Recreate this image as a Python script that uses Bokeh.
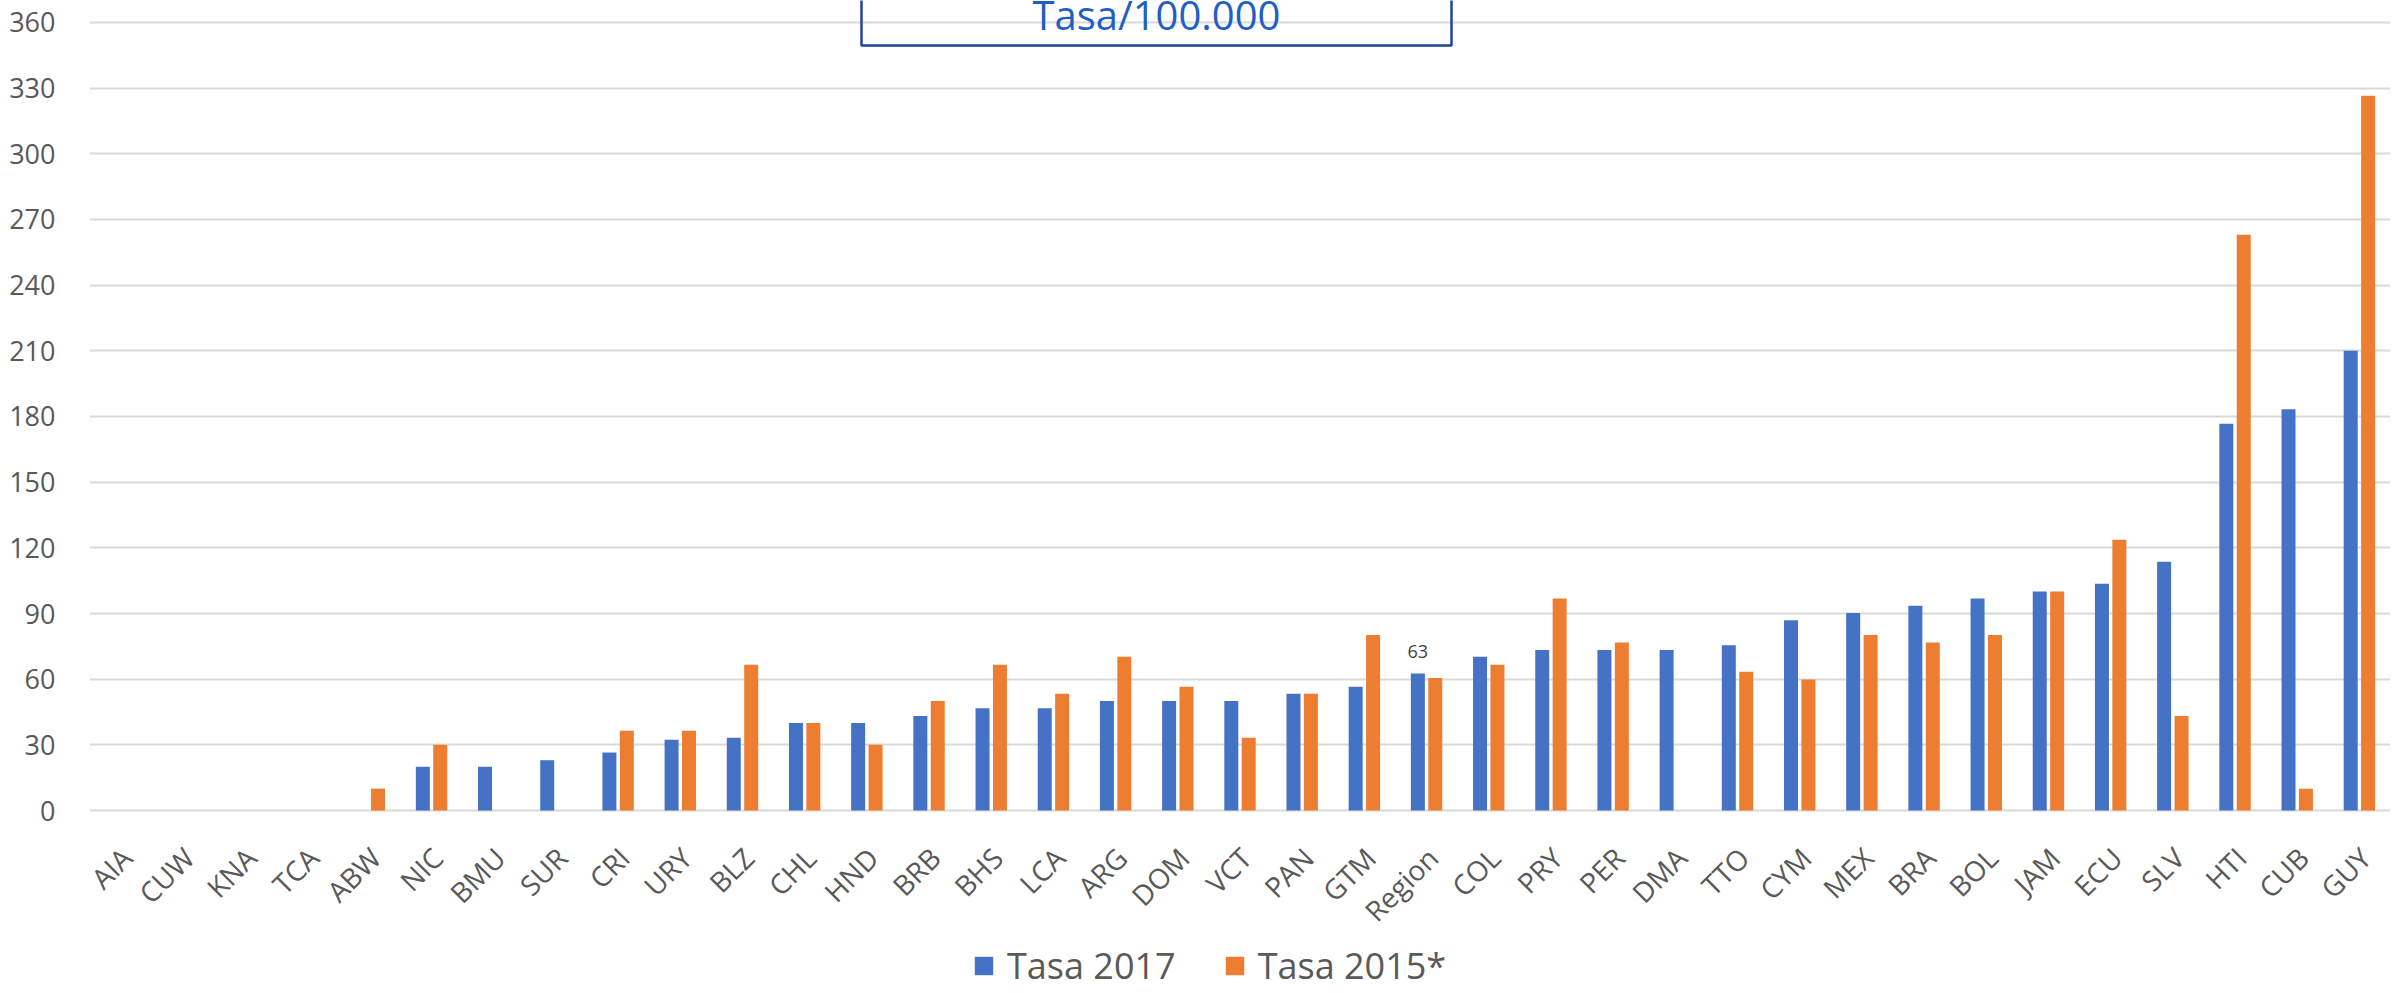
import numpy as np
from math import pi
from bokeh.plotting import figure
from bokeh.models import (ColumnDataSource, FactorRange, Range1d, FixedTicker,
                          Legend, LegendItem, BoxAnnotation, Label)
from bokeh.transform import dodge
from bokeh.core.properties import value
from bokeh.embed import file_html
from bokeh.resources import INLINE

nan = float("nan")

categories = ["AIA", "CUW", "KNA", "TCA", "ABW", "NIC", "BMU", "SUR", "CRI", "URY",
              "BLZ", "CHL", "HND", "BRB", "BHS", "LCA", "ARG", "DOM", "VCT", "PAN",
              "GTM", "Region", "COL", "PRY", "PER", "DMA", "TTO", "CYM", "MEX", "BRA",
              "BOL", "JAM", "ECU", "SLV", "HTI", "CUB", "GUY"]

tasa_2017 = [nan, nan, nan, nan, nan, 20, 20, 23, 26.5, 32.3,
             33.2, 40, 40, 43.2, 46.7, 46.7, 50, 50, 50, 53.4,
             56.6, 62.6, 70.3, 73.3, 73.3, 73.3, 75.5, 86.9, 90.2, 93.5,
             96.9, 100, 103.6, 113.6, 176.7, 183.3, 210]

tasa_2015 = [nan, nan, nan, nan, 10, 30, nan, nan, 36.5, 36.5,
             66.6, 40, 30, 50, 66.6, 53.4, 70.3, 56.6, 33.2, 53.4,
             80.2, 60.5, 66.6, 96.9, 76.7, nan, 63.4, 59.8, 80.2, 76.7,
             80.2, 100, 123.7, 43.2, 263, 10, 326.5]

y_ticks = [0, 30, 60, 90, 120, 150, 180, 210, 240, 270, 300, 330, 360]
series_labels = ["Tasa 2017", "Tasa 2015*"]
title_text = "Tasa/100.000"
labelled_category = "Region"

BLUE = "#4472C4"
ORANGE = "#ED7D31"
GRID = "#D9D9D9"
TXT = "#595959"
FONT = "Open Sans"

src = ColumnDataSource(dict(cat=categories,
                            t17=np.array(tasa_2017, dtype=float),
                            t15=np.array(tasa_2015, dtype=float)))

# frame spans the whole height; the value axis 0..360 sits in its upper part,
# the category labels and the legend live in the lower strip of the frame
p = figure(frame_width=2301, frame_height=990,
           x_range=FactorRange(factors=categories, range_padding=0),
           y_range=Range1d(-82.2, 370.0),
           output_backend="svg", toolbar_location=None,
           min_border_left=89, min_border_right=1,
           min_border_top=0, min_border_bottom=0)

p.background_fill_color = "white"
p.border_fill_color = "white"
p.outline_line_color = None

r1 = p.vbar(x=dodge("cat", -0.14, range=p.x_range), top="t17", width=0.225,
            source=src, fill_color=BLUE, line_color=None)
r2 = p.vbar(x=dodge("cat", 0.14, range=p.x_range), top="t15", width=0.225,
            source=src, fill_color=ORANGE, line_color=None)

# category labels, rotated, hanging under the zero line
p.text(x="cat", y=0, text="cat", source=src, angle=pi / 4,
       text_align="right", text_baseline="middle", x_offset=6, y_offset=42,
       text_font=value(FONT), text_font_size="28px", text_color=TXT)

# data label on the Region bar
idx = categories.index(labelled_category)
lab_src = ColumnDataSource(dict(cat=[labelled_category], v=[tasa_2017[idx]],
                                txt=[f"{tasa_2017[idx]:.0f}"]))
p.text(x=dodge("cat", -0.14, range=p.x_range), y="v", text="txt", source=lab_src,
       text_align="center", text_baseline="bottom", y_offset=-15,
       text_font=value(FONT), text_font_size="18px", text_color="#404040")

# value axis
p.yaxis.ticker = FixedTicker(ticks=y_ticks)
p.yaxis.axis_line_color = None
p.yaxis.major_tick_line_color = None
p.yaxis.minor_tick_line_color = None
p.yaxis.major_tick_out = 0
p.yaxis.major_label_standoff = 34
p.yaxis.major_label_text_font = FONT
p.yaxis.major_label_text_font_size = "27px"
p.yaxis.major_label_text_color = TXT

p.xaxis.visible = False

p.xgrid.grid_line_color = None
p.ygrid.grid_line_color = GRID
p.ygrid.grid_line_width = 2

# title box
box = BoxAnnotation(left=772, right=1362, left_units="screen", right_units="screen",
                    bottom=349.5, top=420, fill_color=None, fill_alpha=0,
                    line_color="#1F4597", line_alpha=1.0, line_width=2.5)
p.add_layout(box)
p.add_layout(Label(x=1067, x_units="screen", y=363.6, text=title_text,
                   text_align="center", text_baseline="alphabetic",
                   text_font=FONT, text_font_size="40px", text_color="#1F5FC4"))

legend = Legend(items=[LegendItem(label=series_labels[0], renderers=[r1]),
                       LegendItem(label=series_labels[1], renderers=[r2])],
                orientation="horizontal", location=(883, 0),
                label_text_font=FONT, label_text_font_size="36px",
                label_text_color=TXT, glyph_width=23, glyph_height=23,
                label_standoff=12, spacing=47, padding=0, margin=0,
                border_line_color=None, background_fill_alpha=0)
p.add_layout(legend)

open("out.html", "w").write(file_html(p, INLINE))
